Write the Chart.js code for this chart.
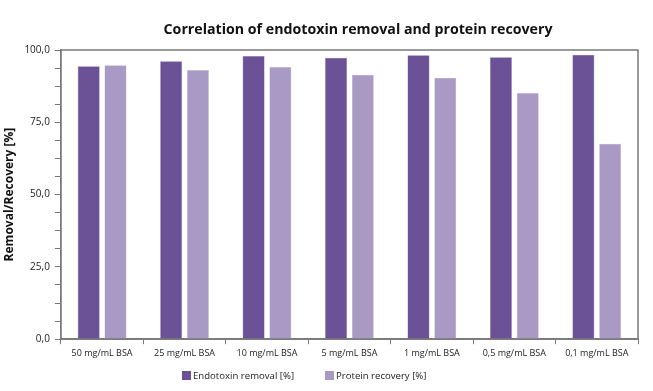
<!DOCTYPE html>
<html>
<head>
<meta charset="utf-8">
<script src="https://cdn.jsdelivr.net/npm/chart.js@4/dist/chart.umd.min.js"></script>
<style>
html,body{margin:0;padding:0;background:#fff;}
#wrap{width:653px;height:391px;position:relative;}
</style>
</head>
<body>
<div id="wrap"><canvas id="c" width="653" height="391"></canvas></div>
<script>
const categories = ["50 mg/mL BSA","25 mg/mL BSA","10 mg/mL BSA","5 mg/mL BSA","1 mg/mL BSA","0,5 mg/mL BSA","0,1 mg/mL BSA"];
const endotoxinRemoval = [94.4, 96.1, 97.9, 97.3, 98.2, 97.5, 98.4];
const proteinRecovery = [94.7, 93.1, 94.1, 91.4, 90.4, 85.1, 67.6];
const seriesNames = ["Endotoxin removal [%]", "Protein recovery [%]"];
const yTickLabels = ["0,0","25,0","50,0","75,0","100,0"];
const chartTitle = "Correlation of endotoxin removal and protein recovery";

const decor = {
  id: 'decor',
  afterDraw(chart) {
    const a = chart.chartArea, ctx = chart.ctx;
    ctx.save();
    // frame around plot area
    ctx.strokeStyle = '#7a7a7a';
    ctx.lineWidth = 1.5;
    ctx.strokeRect(a.left, a.top, a.right - a.left, a.bottom - a.top);
    // title
    ctx.fillStyle = '#111';
    ctx.font = 'bold 14.2px "Open Sans"';
    ctx.textAlign = 'center';
    ctx.textBaseline = 'middle';
    ctx.fillText(chartTitle, 358, 30);
    // legend
    ctx.font = '9.6px "Open Sans"';
    ctx.textAlign = 'left';
    const xs = [182, 325];
    chart.data.datasets.forEach((ds, i) => {
      ctx.fillStyle = ds.backgroundColor;
      ctx.fillRect(xs[i], 371, 9, 9);
      ctx.fillStyle = '#222';
      ctx.fillText(ds.label, xs[i] + 11, 376);
    });
    ctx.restore();
  }
};

new Chart(document.getElementById('c'), {
  type: 'bar',
  data: {
    labels: categories,
    datasets: [
      { label: seriesNames[0], data: endotoxinRemoval, backgroundColor: '#6b5196', borderColor: '#8a74ad', borderWidth: 0.5 },
      { label: seriesNames[1], data: proteinRecovery, backgroundColor: '#a899c5', borderColor: '#c2b7d8', borderWidth: 0.5 }
    ]
  },
  options: {
    responsive: false,
    animation: false,
    devicePixelRatio: 1,
    layout: { padding: { left: 0, right: 15, top: 50, bottom: 28 } },
    datasets: { bar: { categoryPercentage: 0.65, barPercentage: 0.82 } },
    plugins: {
      title: { display: false },
      legend: { display: false },
      tooltip: { enabled: false }
    },
    scales: {
      x: {
        grid: { display: true, drawOnChartArea: false, drawTicks: true, tickLength: 5, color: '#7a7a7a' },
        border: { color: '#7a7a7a', width: 1.5 },
        ticks: { color: '#222', font: { family: 'Open Sans', size: 9 }, maxRotation: 0, autoSkip: false, padding: 4 }
      },
      y: {
        min: 0, max: 100,
        grid: { display: true, drawOnChartArea: false, drawTicks: true, tickLength: 6, color: '#7a7a7a' },
        border: { color: '#7a7a7a', width: 1.5 },
        ticks: {
          stepSize: 6.25,
          autoSkip: false,
          color: '#222',
          font: { family: 'Open Sans', size: 10 },
          padding: 5,
          callback: function(v) {
            const i = Math.round(v / 25);
            return Math.abs(v - i * 25) < 1e-6 ? yTickLabels[i] : '';
          }
        },
        title: {
          display: true,
          text: 'Removal/Recovery [%]',
          color: '#111',
          font: { family: 'Open Sans', size: 12, weight: 'bold' },
          padding: { top: 2, bottom: 3 }
        }
      }
    }
  },
  plugins: [decor]
});
</script>
</body>
</html>
